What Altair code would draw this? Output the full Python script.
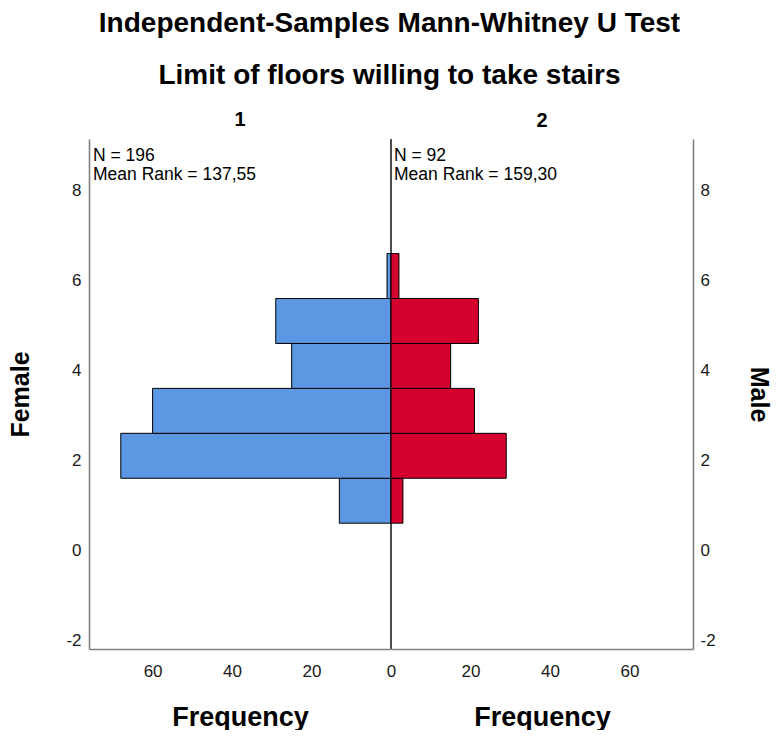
import altair as alt
import pandas as pd

# ---- data ----
bin_edges = [0.6, 1.6, 2.6, 3.6, 4.6, 5.6, 6.6]
female_counts = [13, 68, 60, 25, 29, 1]
male_counts = [3, 29, 21, 15, 22, 2]
group_labels = ["1", "2"]
group_n = [196, 92]
mean_ranks = ["137,55", "159,30"]
side_titles = ["Female", "Male"]
title_lines = ["Independent-Samples Mann-Whitney U Test",
               "Limit of floors willing to take stairs"]
x_ticks_left = [0, 20, 40, 60]
x_ticks_right = [20, 40, 60]
y_ticks = [-2, 0, 2, 4, 6, 8]

FONT = "Liberation Sans"
W, H = 302, 510
XMAX = 76
YDOM = [-2.2, 9.15]
AXIS_GRAY = "#808080"
Y_LABEL = "datum.value < 0 ? '-' + abs(datum.value) : '' + datum.value"


def panel(counts, idx, fill, reverse, orient, xticks, text_x, ypad, ytitlepad):
    df = pd.DataFrame({"lo": bin_edges[:-1], "hi": bin_edges[1:], "count": counts})
    xs = alt.Scale(domain=[0, XMAX], reverse=reverse, nice=False, zero=False)
    ys = alt.Scale(domain=YDOM, nice=False, zero=False)
    bars = alt.Chart(df).mark_rect(fill=fill, stroke="black", strokeWidth=1).encode(
        x=alt.X("count:Q", scale=xs,
                axis=alt.Axis(values=xticks, title="Frequency", labelFlush=False,
                              labelPadding=14, titlePadding=25,
                              labelExpr="'' + abs(datum.value)")),
        x2=alt.datum(0),
        y=alt.Y("lo:Q", scale=ys,
                axis=alt.Axis(orient=orient, values=y_ticks, title=side_titles[idx],
                              labelPadding=ypad, titlePadding=ytitlepad,
                              labelExpr=Y_LABEL)),
        y2="hi:Q",
    )
    note = alt.Chart(pd.DataFrame({
        "t": [f"N = {group_n[idx]}\nMean Rank = {mean_ranks[idx]}"]
    })).mark_text(align="left", baseline="top", lineBreak="\n", lineHeight=18.5,
                  fontSize=17.5, font=FONT, color="black").encode(
        x=alt.value(text_x), y=alt.value(8), text="t:N")
    layers = [bars, note]
    if idx == 0:
        center = alt.Chart(pd.DataFrame({"z": [0]})).mark_rule(
            color="#222222", strokeWidth=1.6).encode(x=alt.X("z:Q"))
        layers.append(center)
    return alt.layer(*layers).properties(
        width=W, height=H,
        title=alt.TitleParams(group_labels[idx], fontSize=20, fontWeight="bold",
                              font=FONT, color="black", anchor="middle", offset=8))


left = panel(female_counts, 0, "#5b97e3", True, "left", x_ticks_left, 4, 8, 32)
right = panel(male_counts, 1, "#d4002e", False, "right", x_ticks_right, 3, 7, 30)

chart = alt.hconcat(left, right, spacing=0, bounds="flush").resolve_scale(
    x="independent", y="independent"
).properties(
    padding={"left": 0, "right": 0, "top": 2, "bottom": 0},
    title=alt.TitleParams(title_lines[0], subtitle=title_lines[1],
                          fontSize=28, fontWeight="bold", font=FONT, color="black",
                          subtitleFontSize=28, subtitleFontWeight="bold",
                          subtitleFont=FONT, subtitleColor="black",
                          subtitlePadding=24, anchor="middle", offset=20),
).configure_view(stroke=None).configure_axis(
    grid=False, ticks=False, tickSize=0,
    domainColor=AXIS_GRAY, domainWidth=1.6,
    labelFont=FONT, labelFontSize=17, labelColor="#1a1a1a",
    titleFont=FONT, titleFontWeight="bold", titleColor="black",
).configure_axisX(titleFontSize=27).configure_axisY(titleFontSize=25)

chart.save("out.html", embed_options={"renderer": "svg", "actions": False})
